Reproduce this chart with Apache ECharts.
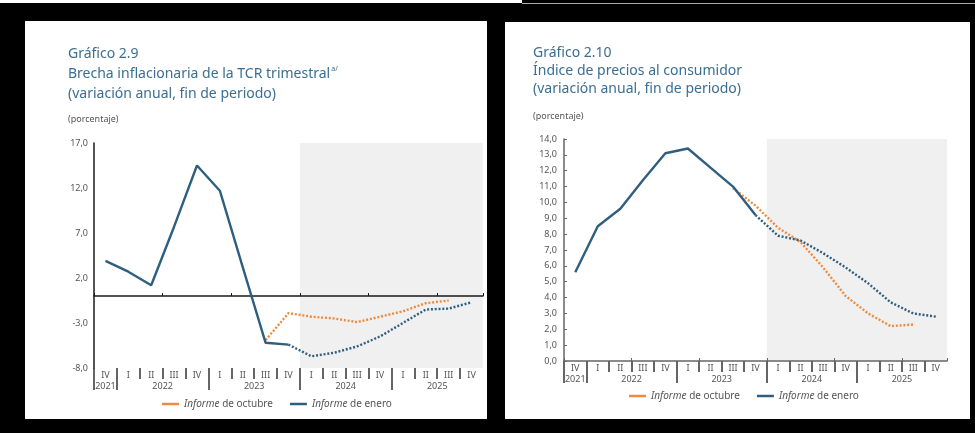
<!DOCTYPE html>
<html>
<head>
<meta charset="utf-8">
<script src="https://cdn.jsdelivr.net/npm/echarts@6.0.0/dist/echarts.min.js"></script>
<style>
  html, body { margin:0; padding:0; background:#000; width:975px; height:433px; overflow:hidden; }
  .panel { position:absolute; background:#fff; }
  #p1 { left:25px; top:21px; width:462px; height:398px; }
  #p2 { left:505px; top:22px; width:465px; height:397px; }
  #strip { position:absolute; left:0; top:0; width:522px; height:3px; background:#fff; }
  #rule { position:absolute; left:522px; top:3px; width:453px; height:1px; background:#aaa; }
</style>
</head>
<body>
<div id="strip"></div><div id="rule"></div>
<div id="p1" class="panel"></div>
<div id="p2" class="panel"></div>
<script>
// quarters shown on both charts
const quarters = ['IV 2021', 'I 2022', 'II 2022', 'III 2022', 'IV 2022',
                  'I 2023', 'II 2023', 'III 2023', 'IV 2023',
                  'I 2024', 'II 2024', 'III 2024', 'IV 2024',
                  'I 2025', 'II 2025', 'III 2025', 'IV 2025'];

// Grafico 2.9 - brecha inflacionaria de la TCR
const tcrEnero   = [3.9, 2.7, 1.2, 7.7, 14.5, 11.7, 3.2, -5.2, -5.4, -6.7, -6.3, -5.6, -4.5, -3.0, -1.5, -1.4, -0.7];
const tcrOctubre = [null, null, null, null, null, null, null, -4.9, -1.9, -2.3, -2.5, -2.9, -2.3, -1.7, -0.8, -0.5, null];
const tcrTicks   = [-8, -3, 2, 7, 12, 17];

// Grafico 2.10 - IPC
const ipcEnero   = [5.6, 8.5, 9.6, 11.4, 13.1, 13.4, 12.2, 11.0, 9.2, 7.9, 7.6, 6.8, 5.9, 4.9, 3.7, 3.0, 2.8];
const ipcOctubre = [null, null, null, null, null, null, null, 10.9, 9.8, 8.4, 7.5, 5.9, 4.1, 3.0, 2.2, 2.3, null];

const lastObserved = 8;   // IV 2023
const shadeFrom = 9;      // proyeccion desde I 2024

const BLUE = '#2f5f7f', ORANGE = '#ee8b3e', SHADE = '#f0f0f0', TITLE = '#3b6e92', LABEL = '#555';
const FONT = '"Noto Sans", sans-serif';

const quarterOf = q => q.split(' ')[0];
const yearOf = q => q.split(' ')[1];

// year separators / centres on a 0..n boundary scale
const yearStarts = [];
quarters.forEach((q, i) => { if (i === 0 || yearOf(q) !== yearOf(quarters[i - 1])) yearStarts.push(i); });
const yearMid = yearStarts.map((s, k) => (s + (k + 1 < yearStarts.length ? yearStarts[k + 1] : quarters.length)) / 2);
const yearName = {};
yearStarts.forEach((s, k) => { yearName[yearMid[k]] = yearOf(quarters[s]); });
const quarterTicks = quarters.map((q, i) => i).filter(i => i > 0 && !yearStarts.includes(i));

const fmt = v => v.toFixed(1).replace('.', ',');

function build(el, c) {
  const chart = echarts.init(el);
  const n = quarters.length;
  const solid = c.enero.map((v, i) => i <= lastObserved ? v : null);
  const dotted = c.enero.map((v, i) => i >= lastObserved ? v : null);
  const dot = [2, 1.8];
  const sepStyle = { color: '#333', width: 1.5 };
  const bottomAxis = extra => Object.assign({
    type: 'value', min: 0, max: n, position: 'bottom',
    axisLine: { show: false, onZero: false }, splitLine: { show: false }, axisLabel: { show: false }
  }, extra);

  chart.setOption({
    animation: false,
    title: {
      left: c.titleLeft, top: c.titleTop, padding: 0,
      text: '{t|Gráfico ' + c.num + '}\n{t|' + c.name + '}' + (c.sup ? '{s|' + c.sup + '}' : '') +
            '\n{t|(variación anual, fin de periodo)}',
      textStyle: {
        fontWeight: 'normal',
        rich: {
          t: { fontSize: 14, fontWeight: 'normal', color: TITLE, fontFamily: FONT, lineHeight: c.titleLH },
          s: { fontSize: 7, fontWeight: 'normal', color: TITLE, fontFamily: FONT, lineHeight: c.titleLH,
               verticalAlign: 'top', padding: [1, 0, 0, 1] }
        }
      }
    },
    graphic: [{
      type: 'text', left: c.titleLeft, top: c.unitTop,
      style: { text: '(porcentaje)', fill: LABEL, fontSize: 9, fontFamily: FONT }
    }],
    legend: {
      left: c.legendLeft, top: c.legendTop, padding: 0, icon: 'rect', itemWidth: 17, itemHeight: 2.5, itemGap: 17,
      data: ['Informe de octubre', 'Informe de enero'],
      formatter: name => name.replace('Informe', '{i|Informe}'),
      textStyle: { color: LABEL, fontSize: 10, fontFamily: FONT,
                   rich: { i: { fontStyle: 'italic', color: LABEL, fontSize: 10, fontFamily: FONT } } }
    },
    grid: c.grid,
    xAxis: [
      { type: 'category', data: quarters, z: 5,
        axisLine: { onZero: c.onZero, lineStyle: { color: c.axisColor, width: 1.5 } },
        axisTick: { show: true, inside: true, length: 3, lineStyle: { color: c.axisColor } },
        axisLabel: { show: false } },
      { type: 'category', data: quarters, position: 'bottom',
        axisLine: { show: false, onZero: false }, axisTick: { show: false },
        axisLabel: { interval: 0, margin: 3, formatter: quarterOf, color: LABEL, fontSize: 9, fontFamily: FONT } },
      bottomAxis({ axisTick: { show: true, customValues: quarterTicks, length: 11, lineStyle: sepStyle } }),
      bottomAxis({ axisTick: { show: true, customValues: yearStarts, length: 22, lineStyle: sepStyle },
                   axisLabel: { show: true, customValues: yearMid, formatter: v => yearName[v] || '', margin: 14,
                                color: LABEL, fontSize: 9, fontFamily: FONT } })
    ],
    yAxis: {
      type: 'value', min: c.yMin, max: c.yMax, interval: c.yStep, z: 5,
      splitLine: { show: false },
      axisLine: { show: true, onZero: false, lineStyle: { color: c.axisColor, width: 1.5 } },
      axisTick: { show: c.yTicks, inside: true, length: 3, lineStyle: { color: c.axisColor } },
      axisLabel: { customValues: c.yLabels, formatter: fmt, margin: c.yMargin, color: LABEL, fontSize: 9, fontFamily: FONT }
    },
    series: [
      { type: 'line', xAxisIndex: 2, data: [], z: 1,
        markArea: { silent: true, itemStyle: { color: SHADE }, data: [[{ xAxis: shadeFrom }, { xAxis: n }]] } },
      { name: 'Informe de octubre', type: 'line', data: c.octubre, symbol: 'none', z: 6,
        lineStyle: { color: ORANGE, width: 2.4, type: dot }, itemStyle: { color: ORANGE } },
      { name: 'Informe de enero', type: 'line', data: solid, symbol: 'none', z: 6,
        lineStyle: { color: BLUE, width: 2.4 }, itemStyle: { color: BLUE } },
      { name: 'Informe de enero', type: 'line', data: dotted, symbol: 'none', z: 6,
        lineStyle: { color: BLUE, width: 2.4, type: dot }, itemStyle: { color: BLUE } }
    ]
  });
}

build(document.getElementById('p1'), {
  num: '2.9', name: 'Brecha inflacionaria de la TCR trimestral', sup: 'a/',
  enero: tcrEnero, octubre: tcrOctubre,
  yMin: -8, yMax: 17, yStep: 5, yLabels: tcrTicks, yTicks: false, yMargin: 6,
  grid: { left: 69, top: 122, width: 389, height: 225 },
  onZero: true, axisColor: '#1a1a1a',
  titleLeft: 43, titleTop: 23, titleLH: 20, unitTop: 94,
  legendLeft: 137, legendTop: 378
});

build(document.getElementById('p2'), {
  num: '2.10', name: 'Índice de precios al consumidor', sup: '',
  enero: ipcEnero, octubre: ipcOctubre,
  yMin: 0, yMax: 14, yStep: 1, yLabels: null, yTicks: true, yMargin: 7,
  grid: { left: 59, top: 117, width: 383, height: 222 },
  onZero: false, axisColor: '#666',
  titleLeft: 28, titleTop: 22, titleLH: 18, unitTop: 90,
  legendLeft: 124, legendTop: 369
});
</script>
</body>
</html>
